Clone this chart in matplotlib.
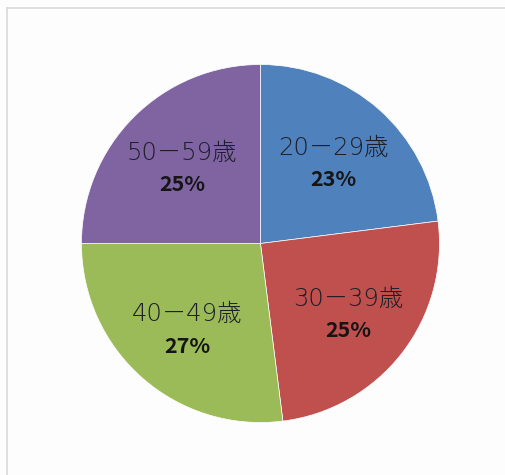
import numpy as np
import matplotlib
matplotlib.use("Agg")
import matplotlib.pyplot as plt
from matplotlib.lines import Line2D

plt.rcParams['font.family'] = ['Noto Sans CJK JP', 'DejaVu Sans']

categories = ["20－29歳", "30－39歳", "40－49歳", "50－59歳"]
values = [23, 25, 27, 25]
colors = ["#4F81BD", "#C0504D", "#9BBB59", "#8064A2"]

fig = plt.figure(figsize=(5.06, 4.75), dpi=100, facecolor="#FDFDFD")

# chart frame (top and left edges visible)
fig.add_artist(Line2D([0.014, 1.0], [0.983, 0.983], transform=fig.transFigure,
                      color="#D9D9D9", lw=1.2))
fig.add_artist(Line2D([0.014, 0.014], [0.0, 0.983], transform=fig.transFigure,
                      color="#D9D9D9", lw=1.2))

ax = fig.add_axes([0.161, 0.1105, 0.7075, 0.7537])
ax.set_facecolor("none")
wedges, _ = ax.pie(values, colors=colors, startangle=90, counterclock=False,
                   radius=1.0, wedgeprops=dict(edgecolor="white", linewidth=0.5))
ax.set_xlim(-1, 1)
ax.set_ylim(-1, 1)
ax.set_aspect("equal")
ax.axis("off")

total = sum(values)
for w, cat, v in zip(wedges, categories, values):
    ang = np.deg2rad((w.theta1 + w.theta2) / 2)
    r = 0.62
    x, y = r * np.cos(ang), r * np.sin(ang)
    ax.annotate(cat, (x, y), xytext=(0, 9), textcoords="offset points",
                ha="center", va="center", fontsize=17.5, color="#1F1F2A",
                family=['DejaVu Sans', 'Noto Sans CJK JP'], fontweight="light")
    ax.annotate(f"{round(100 * v / total)}%", (x, y), xytext=(0, -14),
                textcoords="offset points", ha="center", va="center",
                fontsize=15.5, fontweight="bold", color="#151515")

fig.savefig("out.png", dpi=100, facecolor=fig.get_facecolor())
